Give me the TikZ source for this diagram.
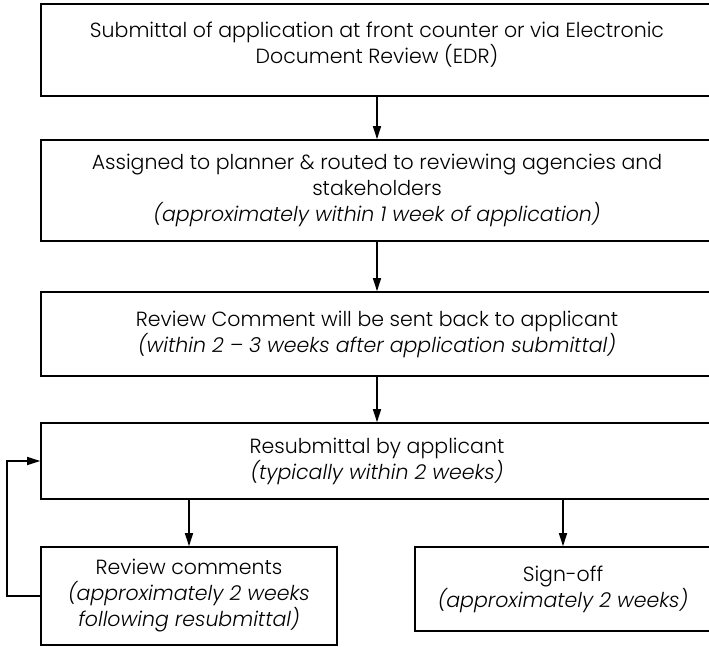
\documentclass[tikz,border=0pt]{standalone}
\usepackage{fontspec}
\setmainfont{Poppins Light}[ItalicFont={Poppins Light Italic}]
\usetikzlibrary{arrows.meta}
\tikzset{
  stepbox/.style={draw=black, line width=1.6pt, rectangle, inner sep=0pt,
    align=center, font=\fontsize{20.5}{26}\selectfont},
  note/.style={align=center, inner sep=0pt, font=\fontsize{20.5}{26}\selectfont},
  arr/.style={line width=1.4pt, -{Triangle[length=13pt,width=8pt]}}
}
\begin{document}
\begin{tikzpicture}[x=1pt,y=-1pt]
\clip (0,0) rectangle (709,647);
\fill[white] (0,0) rectangle (709,647);
% boxes
\node[stepbox, minimum width=672pt, minimum height=92pt] (b1) at (377,50) {};
\node[note] (t1) at (377,45) {Submittal of application at front counter or via Electronic\\Document Review (EDR)};
\node[stepbox, minimum width=672pt, minimum height=101pt] (b2) at (377,190.5)
  {Assigned to planner \& routed to reviewing agencies and\\stakeholders\\\textit{(approximately within 1 week of application)}};
\node[stepbox, minimum width=672pt, minimum height=84pt] (b3) at (377,334)
  {Review Comment will be sent back to applicant\\\textit{(within 2 – 3 weeks after application submittal)}};
\node[stepbox, minimum width=672pt, minimum height=76pt] (b4) at (377,461)
  {Resubmittal by applicant\\\textit{(typically within 2 weeks)}};
\node[stepbox, minimum width=296pt, minimum height=98pt] (b5) at (189,596)
  {Review comments\\\textit{(approximately 2 weeks}\\\textit{following resubmittal)}};
\node[stepbox, minimum width=296pt, minimum height=84pt] (b6) at (563,589)
  {Sign-off\\\textit{(approximately 2 weeks)}};
% connectors
\draw[arr] (b1.south) -- (b2.north);
\draw[arr] (b2.south) -- (b3.north);
\draw[arr] (b3.south) -- (b4.north);
\draw[arr] (b5.north |- b4.south) -- (b5.north);
\draw[arr] (b6.north |- b4.south) -- (b6.north);
\coordinate (lp) at (7,0);
\draw[arr] (b5.west) -- (b5.west -| lp) -- (b4.west -| lp) -- (b4.west);
\end{tikzpicture}
\end{document}
